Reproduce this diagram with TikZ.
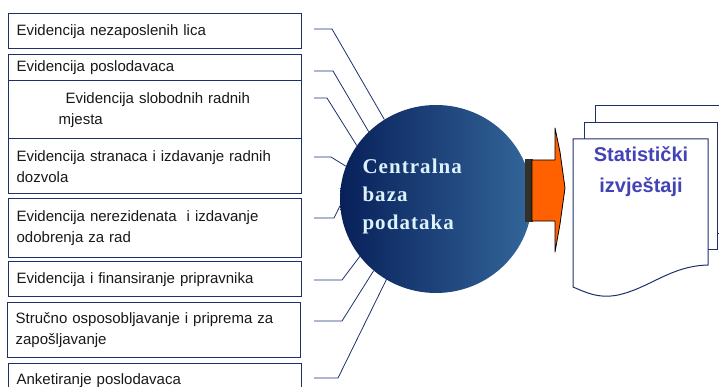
\documentclass[tikz,border=0pt]{standalone}
\usepackage{fontspec}
\setmainfont{Liberation Sans}
\newfontfamily\bazafont[LetterSpace=5]{Liberation Serif}
\usetikzlibrary{shapes.geometric}
\definecolor{okvir}{HTML}{1E2F6E}
\definecolor{bazatamna}{HTML}{08205A}
\definecolor{bazasvijetla}{HTML}{33669A}
\definecolor{narandz}{HTML}{FF6000}
\definecolor{izvjboja}{HTML}{4343B8}
\definecolor{bazatekst}{HTML}{DDF2FF}

\begin{document}
\begin{tikzpicture}[x=1pt, y=-1pt,
    kutija/.style={draw=okvir, line width=1.3pt, fill=white, anchor=north west,
      text width=277pt, align=left, inner xsep=8pt, inner ysep=0pt,
      font=\fontsize{15}{21}\selectfont, text=black!90},
    veza/.style={draw=okvir, line width=0.8pt},
    list/.style={draw=okvir, line width=1pt, fill=white}]
  \useasboundingbox (0,0) rectangle (719,387);
  \clip (0,0) rectangle (719,387);
  % lijeva strana
  \node[kutija, minimum height=35pt] (b1) at (8,13) {Evidencija nezaposlenih lica};
  \node[kutija, minimum height=26pt] (b2) at (8,54) {Evidencija poslodavaca};
  \node[kutija, minimum height=58pt] (b3) at (8,80) {\hspace*{49pt}Evidencija slobodnih radnih\\\hspace*{42pt}mjesta};
  \node[kutija, minimum height=55pt] (b4) at (8,138) {Evidencija stranaca i izdavanje radnih\\dozvola};
  \node[kutija, minimum height=59pt] (b5) at (8,198) {Evidencija nerezidenata \ i izdavanje\\odobrenja za rad};
  \node[kutija, minimum height=35pt] (b6) at (8,261) {Evidencija i finansiranje pripravnika};
  \node[kutija, minimum height=55pt] (b7) at (7,302) {Stru\v{c}no osposobljavanje i priprema za\\zapo\v{s}ljavanje};
  \node[kutija, minimum height=34pt] (b8) at (8,363) {Anketiranje poslodavaca};
  % baza
  \node[ellipse, minimum width=192pt, minimum height=188pt, inner sep=0pt,
        left color=bazatamna, right color=bazasvijetla] (baza) at (436,199) {};
  \node[anchor=west, align=left, text=bazatekst,
        font=\bazafont\bfseries\fontsize{21}{28}\selectfont] (bazatxt) at (359,196) {Centralna\\baza\\podataka};
  % veze
  \coordinate (s1) at (314,29);
  \coordinate (s2) at (314,71);
  \coordinate (s3) at (314,98);
  \coordinate (s4) at (314,157);
  \coordinate (s5) at (314,218);
  \coordinate (s6) at (314,280);
  \coordinate (s7) at (314,321);
  \coordinate (s8) at (314,378);
  \coordinate (k8) at (397,258);
  \draw[veza] (s1) -- ++(18,0) -- (baza.123);
  \draw[veza] (s2) -- ++(19,0) -- (baza.135);
  \draw[veza] (s3) -- ++(13,0) -- (baza.146);
  \draw[veza] (s4) -- ++(17,0) -- (baza.160);
  \draw[veza] (s5) -- ++(20,0) -- (baza.184);
  \draw[veza] (s6) -- ++(28,0) -- (baza.217);
  \draw[veza] (s7) -- ++(28,0) -- (baza.229);
  \draw[veza] (s8) -- ++(24,0) -- (k8);
  % strelica
  \fill[black!85!olive] (525,159) rectangle (533,222);
  \draw[fill=narandz, line width=0.8pt, line join=round]
    (532,160) -- (555,160) -- (555,128) -- (560,152) -- (565,188) -- (560,224)
    -- (555,252) -- (555,221) -- (532,221) -- cycle;
  % izvjestaji
  \draw[list] (595,106) rectangle (730,233);
  \draw[list] (584,123) rectangle (717,249);
  \draw[list] (573,139) -- (708,139) -- (708,265)
    .. controls (670,266) and (650,288) .. (618,295)
    .. controls (598,299) and (585,292) .. (573,287) -- cycle;
  \node[font=\bfseries\fontsize{20}{31}\selectfont, text=izvjboja, align=center] (izvj) at (641,172) {Statisti\v{c}ki\\izvje\v{s}taji};
\end{tikzpicture}
\end{document}
